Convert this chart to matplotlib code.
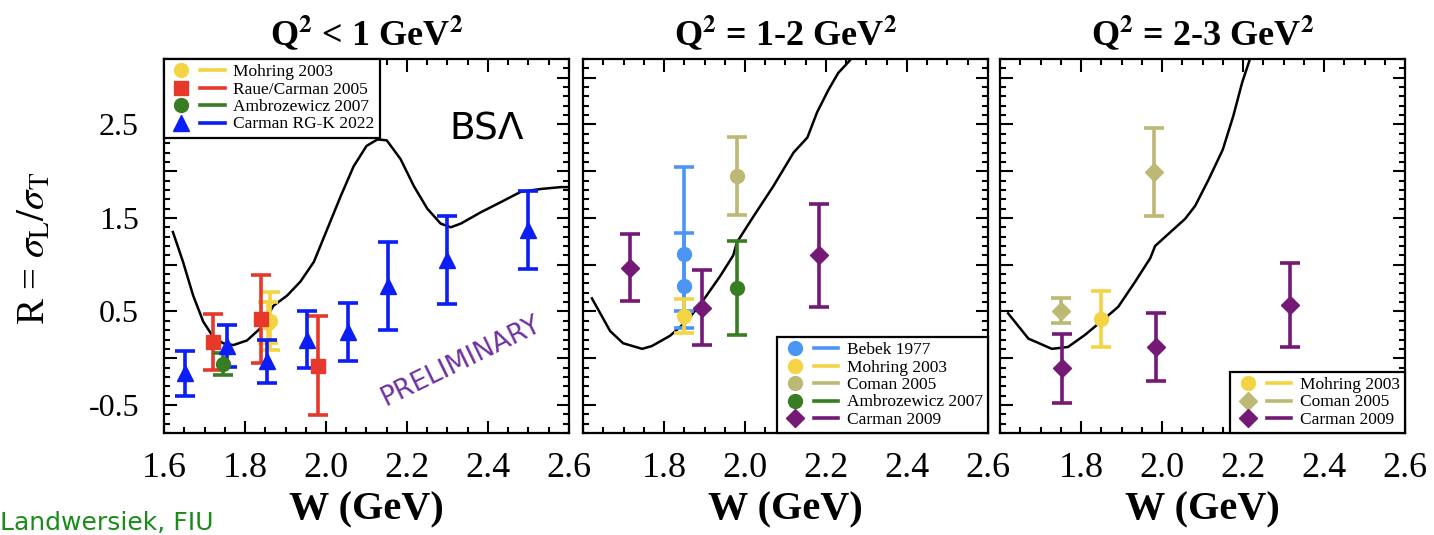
import numpy as np
import matplotlib
matplotlib.use("Agg")
import matplotlib.pyplot as plt
from matplotlib.lines import Line2D
from matplotlib.legend_handler import HandlerTuple
from matplotlib.ticker import MultipleLocator, FuncFormatter

plt.rcParams["font.family"] = ["Liberation Serif", "DejaVu Serif"]
plt.rcParams["mathtext.fontset"] = "stix"

# ---------------------------
# Panel 1 data (Q^2 < 1 GeV^2)
# ---------------------------
p1_curve_w = [1.622, 1.647, 1.672, 1.697, 1.721, 1.746, 1.771, 1.805, 1.838, 1.87,
              1.904, 1.937, 1.97, 2.003, 2.036, 2.068, 2.10, 2.127, 2.15, 2.184,
              2.217, 2.25, 2.283, 2.308, 2.333, 2.382, 2.432, 2.481, 2.531, 2.58, 2.6]
p1_curve_r = [1.35, 1.03, 0.67, 0.39, 0.23, 0.16, 0.14, 0.19, 0.32, 0.56,
              0.67, 0.82, 1.03, 1.38, 1.73, 2.05, 2.27, 2.34, 2.33, 2.13,
              1.84, 1.60, 1.44, 1.40, 1.44, 1.56, 1.67, 1.78, 1.81, 1.83, 1.83]

p1_mohring_w = [1.862, 1.857]
p1_mohring_r = [0.40, 0.38]
p1_mohring_err = [0.31, 0.22]

p1_raue_w = [1.72, 1.84, 1.98]
p1_raue_r = [0.17, 0.42, -0.08]
p1_raue_err = [0.30, 0.47, 0.53]

p1_ambro_w = [1.746]
p1_ambro_r = [-0.06]
p1_ambro_err = [0.12]

p1_rgk_w = [1.652, 1.756, 1.855, 1.954, 2.055, 2.154, 2.30, 2.50]
p1_rgk_r = [-0.16, 0.13, -0.03, 0.20, 0.28, 0.77, 1.05, 1.37]
p1_rgk_err = [0.24, 0.22, 0.23, 0.30, 0.31, 0.47, 0.47, 0.42]

# ---------------------------
# Panel 2 data (Q^2 = 1-2 GeV^2)
# ---------------------------
p2_curve_w = [1.622, 1.667, 1.699, 1.746, 1.77, 1.815, 1.857, 1.897, 1.939, 1.971,
              1.98, 2.02, 2.07, 2.12, 2.154, 2.178, 2.206, 2.23, 2.26, 2.27]
p2_curve_r = [0.64, 0.29, 0.16, 0.10, 0.13, 0.24, 0.40, 0.62, 0.88, 1.10,
              1.24, 1.51, 1.84, 2.20, 2.36, 2.63, 2.87, 3.05, 3.19, 3.27]

p2_bebek_w = [1.85, 1.85]
p2_bebek_r = [1.11, 0.77]
p2_bebek_lo = [0.79, 0.27]
p2_bebek_hi = [0.94, 0.57]

p2_mohring_w = [1.85]
p2_mohring_r = [0.45]
p2_mohring_err = [0.18]

p2_coman_w = [1.98]
p2_coman_r = [1.95]
p2_coman_err = [0.42]

p2_ambro_w = [1.98]
p2_ambro_r = [0.75]
p2_ambro_err = [0.50]

p2_carman_w = [1.716, 1.894, 2.183]
p2_carman_r = [0.97, 0.54, 1.10]
p2_carman_err = [0.36, 0.40, 0.55]

# ---------------------------
# Panel 3 data (Q^2 = 2-3 GeV^2)
# ---------------------------
p3_curve_w = [1.62, 1.67, 1.728, 1.768, 1.81, 1.86, 1.892, 1.934, 1.971, 1.983,
              2.016, 2.057, 2.082, 2.115, 2.15, 2.176, 2.198, 2.218, 2.23]
p3_curve_r = [0.48, 0.21, 0.10, 0.12, 0.25, 0.43, 0.55, 0.82, 1.07, 1.20,
              1.33, 1.49, 1.63, 1.91, 2.23, 2.59, 2.95, 3.21, 3.35]

p3_mohring_w = [1.85]
p3_mohring_r = [0.42]
p3_mohring_err = [0.30]

p3_coman_w = [1.751, 1.981]
p3_coman_r = [0.51, 1.99]
p3_coman_err = [0.13, 0.47]

p3_carman_w = [1.753, 1.985, 2.315]
p3_carman_r = [-0.11, 0.12, 0.57]
p3_carman_err = [0.37, 0.36, 0.45]

titles = [r"Q$^{\mathbf{2}}$ < 1 GeV$^{\mathbf{2}}$",
          r"Q$^{\mathbf{2}}$ = 1-2 GeV$^{\mathbf{2}}$",
          r"Q$^{\mathbf{2}}$ = 2-3 GeV$^{\mathbf{2}}$"]

# colours
c_yellow = "#f5d443"
c_red = "#e6392b"
c_green = "#377d23"
c_blue = "#0a1ef5"
c_lblue = "#4b96f5"
c_khaki = "#bdb873"
c_purple = "#741a76"

fig = plt.figure(figsize=(14.34, 5.35), dpi=100)
lefts = [164 / 1434, 583 / 1434, 1000 / 1434]
axes = [fig.add_axes([l, 1 - 433 / 535, 405 / 1434, 374 / 535]) for l in lefts]


def draw(ax, w, r, err, color, marker, ms=10):
    ax.errorbar(w, r, yerr=err, fmt=marker, color=color, ms=ms, mec=color,
                elinewidth=2.6, capsize=7, capthick=2.6, zorder=3)


def handle(color, marker, ms=10):
    m = Line2D([], [], ls="none", marker=marker, color=color, ms=ms)
    l = Line2D([], [], color=color, lw=2.6)
    return (m, l)


def add_legend(ax, handles, labels, loc):
    leg = ax.legend(handles, labels,
                    handler_map={tuple: HandlerTuple(ndivide=None, pad=0.4)},
                    loc=loc, borderaxespad=0, fontsize=12.5, handlelength=3.2,
                    handleheight=0.6, handletextpad=0.5, labelspacing=0.08,
                    borderpad=0.3, fancybox=False, edgecolor="black", framealpha=1)
    leg.get_frame().set_linewidth(1.6)


# panel 1
ax = axes[0]
ax.plot(p1_curve_w, p1_curve_r, color="black", lw=1.8, zorder=2)
draw(ax, p1_mohring_w, p1_mohring_r, p1_mohring_err, c_yellow, "o")
draw(ax, p1_raue_w, p1_raue_r, p1_raue_err, c_red, "s")
draw(ax, p1_ambro_w, p1_ambro_r, p1_ambro_err, c_green, "o")
draw(ax, p1_rgk_w, p1_rgk_r, p1_rgk_err, c_blue, "^", ms=11)
add_legend(ax, [handle(c_yellow, "o"), handle(c_red, "s"), handle(c_green, "o"),
                handle(c_blue, "^", 11)],
           ["Mohring 2003", "Raue/Carman 2005", "Ambrozewicz 2007", "Carman RG-K 2022"],
           "upper left")
ax.text(2.397, 2.45, "BS\u039b", fontsize=27, family="DejaVu Sans",
        ha="center", va="center")
ax.text(2.333, -0.03, "PRELIMINARY", fontsize=19, family="DejaVu Sans",
        color="#7030a0", rotation=26, ha="center", va="center")

# panel 2
ax = axes[1]
ax.plot(p2_curve_w, p2_curve_r, color="black", lw=1.8, zorder=2)
draw(ax, p2_bebek_w, p2_bebek_r, [p2_bebek_lo, p2_bebek_hi], c_lblue, "o")
draw(ax, p2_mohring_w, p2_mohring_r, p2_mohring_err, c_yellow, "o")
draw(ax, p2_coman_w, p2_coman_r, p2_coman_err, c_khaki, "o")
draw(ax, p2_ambro_w, p2_ambro_r, p2_ambro_err, c_green, "o")
draw(ax, p2_carman_w, p2_carman_r, p2_carman_err, c_purple, "D", ms=9)
add_legend(ax, [handle(c_lblue, "o"), handle(c_yellow, "o"), handle(c_khaki, "o"),
                handle(c_green, "o"), handle(c_purple, "D", 9)],
           ["Bebek 1977", "Mohring 2003", "Coman 2005", "Ambrozewicz 2007", "Carman 2009"],
           "lower right")

# panel 3
ax = axes[2]
ax.plot(p3_curve_w, p3_curve_r, color="black", lw=1.8, zorder=2)
draw(ax, p3_mohring_w, p3_mohring_r, p3_mohring_err, c_yellow, "o")
draw(ax, p3_coman_w, p3_coman_r, p3_coman_err, c_khaki, "D", ms=9)
draw(ax, p3_carman_w, p3_carman_r, p3_carman_err, c_purple, "D", ms=9)
add_legend(ax, [handle(c_yellow, "o"), handle(c_khaki, "D", 9), handle(c_purple, "D", 9)],
           ["Mohring 2003", "Coman 2005", "Carman 2009"],
           "lower right")

# axes styling
for i, ax in enumerate(axes):
    ax.set_xlim(1.6, 2.6)
    ax.set_ylim(-0.8, 3.2)
    ax.xaxis.set_major_locator(MultipleLocator(0.2))
    ax.xaxis.set_minor_locator(MultipleLocator(0.05))
    ax.yaxis.set_major_locator(MultipleLocator(0.5))
    ax.yaxis.set_minor_locator(MultipleLocator(0.1))
    if i == 0:
        ax.xaxis.set_major_formatter(FuncFormatter(lambda v, p: f"{v:.1f}"))
    else:
        ax.xaxis.set_major_formatter(
            FuncFormatter(lambda v, p: "" if v < 1.7 else f"{v:.1f}"))
    ax.yaxis.set_major_formatter(
        FuncFormatter(lambda v, p: f"{v:.1f}" if abs((v + 0.5) % 1.0) < 1e-6
                      or abs((v + 0.5) % 1.0 - 1) < 1e-6 else ""))
    ax.tick_params(which="both", direction="in", top=True, right=True, width=1.5)
    ax.tick_params(which="major", length=9)
    ax.tick_params(which="minor", length=4.5)
    ax.tick_params(axis="x", labelsize=26, pad=14)
    ax.tick_params(axis="y", labelsize=23, pad=18, labelleft=(i == 0))
    for s in ax.spines.values():
        s.set_linewidth(1.6)
    ax.set_title(titles[i], fontsize=26, fontweight="bold", pad=10)
    ax.set_xlabel("W (GeV)", fontsize=29, fontweight="bold", labelpad=4)

fig.text(35 / 1434, 0.535, r"R = $\sigma_{\mathrm{L}}/\sigma_{\mathrm{T}}$",
         rotation=90, fontsize=28, ha="center", va="center")
fig.text(0.0, 0.0, "Landwersiek, FIU", fontsize=18, family="DejaVu Sans",
         color="#1a8c1a", ha="left", va="bottom")

fig.savefig("out.png", dpi=100)
